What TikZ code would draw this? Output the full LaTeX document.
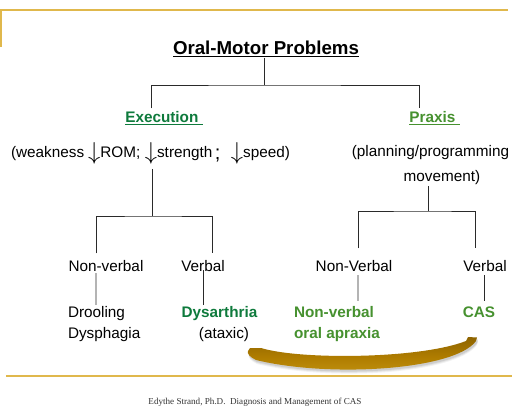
\documentclass[tikz,border=0pt]{standalone}
\usepackage{fontspec}
\setmainfont{Liberation Sans}
\newfontfamily\footfont{Liberation Serif}
\usetikzlibrary{calc}
\definecolor{goldline}{HTML}{E0B84C}
\definecolor{swoosh}{HTML}{B07D00}
\definecolor{swooshdark}{HTML}{8E6400}
\definecolor{swooshlight}{HTML}{C49512}
\definecolor{dkgreen}{HTML}{0E7A3C}
\definecolor{ltgreen}{HTML}{46912F}
\definecolor{linegray}{HTML}{2A2A2A}
\newcommand\dnarr{\raisebox{-2pt}{\scalebox{1.7}{$\downarrow$}}}
\newcommand\bigsemi{\raisebox{-1.5pt}{\fontsize{20}{20}\selectfont;}}
\begin{document}
\begin{tikzpicture}[x=1pt,y=-1pt,
  every node/.style={inner sep=0pt, outer sep=0pt, font=\fontsize{15.3}{18}\selectfont},
  conn/.style={draw=linegray, line width=0.9pt},
  frameline/.style={draw=goldline, line width=1.4pt},
  boldtxt/.style={font=\bfseries\fontsize{15.3}{18}\selectfont},
  titletxt/.style={font=\bfseries\fontsize{18.7}{22}\selectfont},
  foottxt/.style={font=\footfont\fontsize{9.1}{11}\selectfont, text=black!80}]
\useasboundingbox (0,0) rectangle (512,409);

% frame lines
\draw[frameline] (1,47) -- (1,10) -- (508,10);
\draw[frameline] (6,376) -- (512,376);

% texts
\node[titletxt, anchor=base] (title) at (266,55) {\underline{Oral-Motor Problems}};
\node[boldtxt, anchor=base, text=dkgreen] (exec) at (164,123) {\underline{Execution\ }};
\node[boldtxt, anchor=base, text=ltgreen] (praxis) at (434.5,123) {\underline{Praxis\ }};
\node[anchor=base] (weak) at (150.5,158) {(weakness\hspace{4pt}\dnarr ROM;\hspace{4.5pt}\dnarr strength\hspace{2.5pt}\bigsemi\hspace{10.5pt}\dnarr speed)};
\node[anchor=base] (plan) at (430.5,157) {(planning/programming};
\node[anchor=base] (move) at (442,182) {movement)};
\node[anchor=base] (nv1) at (106,272) {Non-verbal};
\node[anchor=base] (v1) at (203,272) {Verbal};
\node[anchor=base] (nv2) at (354,272) {Non-Verbal};
\node[anchor=base] (v2) at (485,272) {Verbal};
\node[anchor=base west] (drool) at (68,317) {Drooling};
\node[anchor=base west] (dysph) at (68,338) {Dysphagia};
\node[boldtxt, anchor=base, text=dkgreen] (dys) at (219.5,317) {Dysarthria};
\node[anchor=base] (ataxic) at (224,338) {(ataxic)};
\node[boldtxt, anchor=base west, text=ltgreen] (nvo) at (294,317) {Non-verbal};
\node[boldtxt, anchor=base west, text=ltgreen] (oral) at (294,338) {oral apraxia};
\node[boldtxt, anchor=base, text=ltgreen] (cas) at (479,317) {CAS};
\node[foottxt, anchor=base] (foot) at (255,404) {Edythe Strand, Ph.D.\ \ Diagnosis and Management of CAS};

% connectors
\coordinate (j1) at (264,85);
\coordinate (j2) at (152,216);
\coordinate (j3) at (428,211);
\draw[conn] ($(title.south)+(-2,0.5)$) -- (j1);
\draw[conn] ($(exec.north)+(-13,-3.5)$) |- (j1) -| ($(praxis.north)+(-15.5,-3.5)$);
\draw[conn] (weak.south -| j2) ++(0,4) -- (j2);
\draw[conn] ($(nv1.north)+(-10,-7.5)$) |- (j2) -| ($(v1.north)+(9,-7.5)$);
\draw[conn] ($(move.south)+(-14,1)$) -- (j3);
\draw[conn] ($(nv2.north)+(4,-12.5)$) |- (j3) -| ($(v2.north)+(-10,-12.5)$);
\draw[conn] ($(nv1.south)+(-10,1)$) -- ($(drool.north)+(-0.5,-1)$);
\draw[conn] ($(v1.south)+(0,-2)$) -- ($(v1.south)+(0,33)$);
\draw[conn] ($(nv2.south)+(4,3)$) -- ($(nvo.north)+(24,-5)$);
\draw[conn] ($(v2.south)+(-1,3)$) -- ($(cas.north)+(5,-5)$);

% swoosh with soft shadow
\foreach \s/\o in {4/0.05,3/0.07,2/0.09}{
\fill[black, opacity=\o, shift={(1,\s)}] (250,348) -- (261,348)
  .. controls (300,360) and (420,359) .. (466,341) -- (468,337) -- (477,337.5) -- (476,341)
  .. controls (455,370) and (330,378) .. (256,360)
  .. controls (250,357) and (247,354) .. (248,351) -- cycle;}
\shade[top color=swooshdark, bottom color=swooshlight, middle color=swoosh]
  (250,348) -- (261,348)
  .. controls (300,360) and (420,359) .. (466,341) -- (468,337) -- (477,337.5) -- (476,341)
  .. controls (455,370) and (330,378) .. (256,360)
  .. controls (250,357) and (247,354) .. (248,351) -- cycle;
\end{tikzpicture}
\end{document}
